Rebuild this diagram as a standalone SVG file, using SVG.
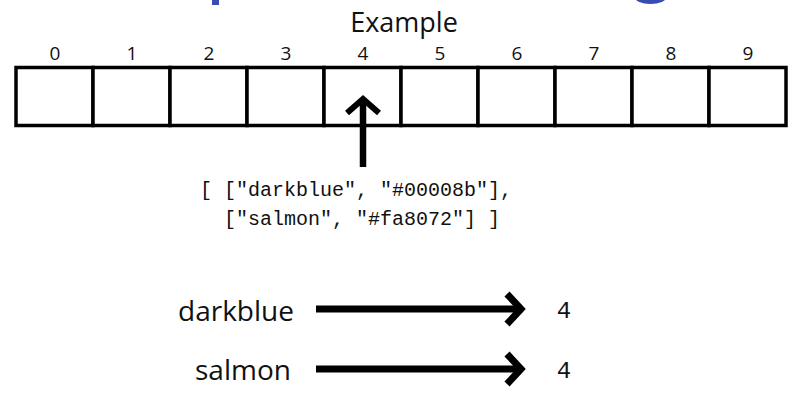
<svg xmlns="http://www.w3.org/2000/svg" width="808" height="403" viewBox="0 0 808 403">
<style>
.sans{font-family:"Open Sans","Noto Sans","DejaVu Sans",sans-serif;fill:#111;}
.idx{font-size:19px;text-anchor:middle;}
.mono{font-family:"Liberation Mono","Courier New",monospace;fill:#111;font-size:20px;}
.val{font-size:24px;}
.cell{fill:#fff;stroke:#000;stroke-width:3.5;}
.conn{stroke:#000;fill:none;stroke-linecap:butt;stroke-linejoin:miter;}
</style>
<rect width="808" height="403" fill="#fff"/>
<g id="title-fragment" fill="#3a4bb3">
<rect x="212" y="0" width="7" height="5"/>
<ellipse cx="650.5" cy="-3" rx="16" ry="7"/>
</g>
<text class="sans" x="404" y="32" font-size="27" text-anchor="middle">Example</text>
<g id="indices" class="sans idx">
<text x="55" y="60">0</text><text x="132" y="60">1</text><text x="209" y="60">2</text><text x="286" y="60">3</text><text x="363" y="60">4</text>
<text x="440" y="60">5</text><text x="517" y="60">6</text><text x="594" y="60">7</text><text x="671" y="60">8</text><text x="748" y="60">9</text>
</g>
<g id="cell0"><rect class="cell" x="16" y="67.5" width="77" height="58"/></g>
<g id="cell1"><rect class="cell" x="93" y="67.5" width="77" height="58"/></g>
<g id="cell2"><rect class="cell" x="170" y="67.5" width="77" height="58"/></g>
<g id="cell3"><rect class="cell" x="247" y="67.5" width="77" height="58"/></g>
<g id="cell4"><rect class="cell" x="324" y="67.5" width="77" height="58"/></g>
<g id="cell5"><rect class="cell" x="401" y="67.5" width="77" height="58"/></g>
<g id="cell6"><rect class="cell" x="478" y="67.5" width="77" height="58"/></g>
<g id="cell7"><rect class="cell" x="555" y="67.5" width="77" height="58"/></g>
<g id="cell8"><rect class="cell" x="632" y="67.5" width="77" height="58"/></g>
<g id="cell9"><rect class="cell" x="709" y="67.5" width="77" height="58"/></g>
<g id="code">
<text class="mono" x="200" y="196" xml:space="preserve">[ ["darkblue", "#00008b"],</text>
<text class="mono" x="200" y="225" xml:space="preserve">  ["salmon", "#fa8072"] ]</text>
</g>
<g id="key-darkblue"><text class="sans" x="178" y="321" font-size="28">darkblue</text></g>
<g id="key-salmon"><text class="sans" x="195" y="380" font-size="28">salmon</text></g>
<g id="value-darkblue"><text class="mono val" x="564" y="318" text-anchor="middle">4</text></g>
<g id="value-salmon"><text class="mono val" x="564" y="378" text-anchor="middle">4</text></g>
<g id="connectors" class="conn">
<line x1="363" y1="101" x2="363" y2="167" stroke-width="6.5"/>
<polyline points="347,113 363,99 379,113" stroke-width="6"/>
<line x1="316" y1="309" x2="519" y2="309" stroke-width="7"/>
<polyline points="507,294 521,309 507,324" stroke-width="7"/>
<line x1="316" y1="369" x2="519" y2="369" stroke-width="7"/>
<polyline points="507,354 521,369 507,384" stroke-width="7"/>
</g>
</svg>
